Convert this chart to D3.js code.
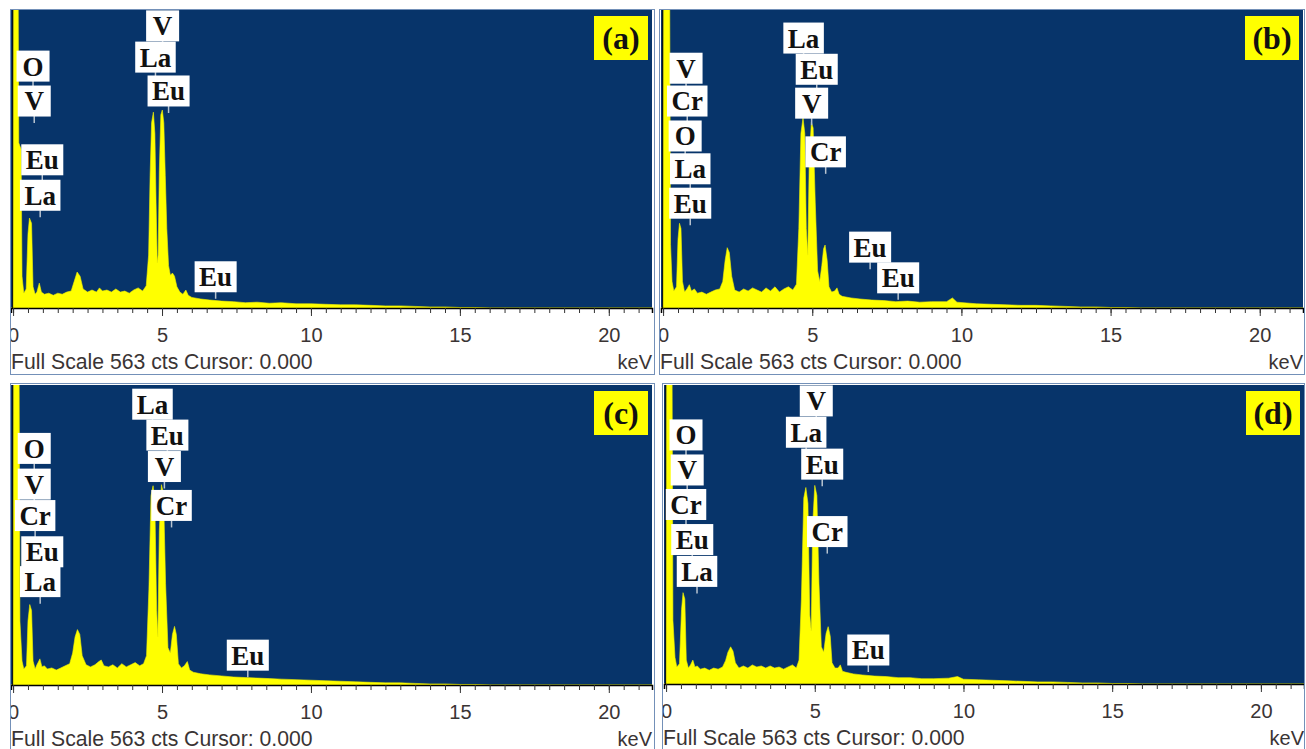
<!DOCTYPE html>
<html>
<head>
<meta charset="utf-8">
<script src="https://cdn.jsdelivr.net/npm/d3@7"></script>
<style>
  body { margin: 0; background: #fff; }
  svg { display: block; }
</style>
</head>
<body>
<svg id="chart"></svg>
<script>
// EDS spectra, four samples. values are [keV, counts], full scale 563 cts
const fullScale = 563;
const energyTicks = [0, 5, 10, 15, 20];
const panelNames = ["(a)", "(b)", "(c)", "(d)"];
const footerText = "Full Scale 563 cts Cursor: 0.000";
const unitText = "keV";

const spectrumA = [
  [-0.07,0],[0,0],[0.02,620],[0.17,620],[0.19,312],[0.27,300],[0.3,60],[0.36,28],[0.44,36],
  [0.5,140],[0.55,170],[0.62,160],[0.67,40],[0.74,26],[0.8,30],[0.88,47],[0.95,30],[1.05,26],
  [1.2,28],[1.35,24],[1.5,28],[1.65,26],[1.8,30],[1.95,32],[2.05,50],[2.15,68],[2.25,60],
  [2.35,36],[2.5,30],[2.65,34],[2.8,30],[2.9,38],[3.0,32],[3.15,34],[3.3,30],[3.45,36],
  [3.6,30],[3.75,32],[3.9,28],[4.05,34],[4.2,38],[4.35,32],[4.47,42],[4.55,100],[4.6,250],
  [4.65,350],[4.71,370],[4.76,330],[4.8,200],[4.84,85],[4.87,100],[4.91,260],[4.96,365],
  [5.01,374],[5.06,350],[5.11,250],[5.16,150],[5.22,80],[5.28,62],[5.35,66],[5.42,60],
  [5.5,40],[5.6,30],[5.7,26],[5.8,34],[5.88,24],[6.0,20],[6.3,17],[6.6,15],[7.0,13],
  [7.4,12],[7.8,10],[8.2,11],[8.6,9],[9.0,10],[9.5,8],[10.0,8],[10.5,7],[11.0,6],[11.5,6],
  [12.0,5],[12.5,4],[13.0,4],[13.5,3],[14.0,2],[14.5,2],[15.0,1],[15.5,1],[16.0,0],[21.5,0]
];

const spectrumB = [
  [-0.07,0],[0,0],[0.02,620],[0.22,620],[0.25,120],[0.3,50],[0.36,32],[0.45,40],[0.5,130],
  [0.55,160],[0.6,150],[0.65,50],[0.72,30],[0.8,36],[0.88,44],[0.95,32],[1.05,36],[1.15,28],
  [1.3,30],[1.45,26],[1.6,30],[1.75,34],[1.9,36],[2.0,50],[2.08,90],[2.15,114],[2.22,105],
  [2.3,60],[2.4,34],[2.55,30],[2.7,36],[2.85,32],[3.0,38],[3.15,34],[3.3,30],[3.45,38],
  [3.6,32],[3.75,40],[3.9,30],[4.05,36],[4.2,40],[4.35,34],[4.47,45],[4.55,150],[4.62,330],
  [4.69,359],[4.75,330],[4.8,150],[4.85,100],[4.9,280],[4.97,351],[5.03,340],[5.1,200],
  [5.18,70],[5.25,50],[5.32,80],[5.38,112],[5.43,119],[5.5,90],[5.56,40],[5.65,30],[5.75,32],
  [5.83,38],[5.9,26],[6.0,22],[6.3,19],[6.6,17],[7.0,15],[7.4,14],[7.8,12],[8.2,13],[8.6,11],
  [9.0,12],[9.5,12],[9.7,19],[9.85,11],[10.5,8],[11.0,7],[11.5,6],[12.0,5],[12.5,5],[13.0,4],
  [13.5,3],[14.0,2],[14.5,2],[15.0,1],[15.5,1],[16.0,0],[21.5,0]
];

const spectrumC = [
  [-0.07,0],[0,0],[0.02,620],[0.2,620],[0.23,120],[0.3,45],[0.36,30],[0.45,36],[0.5,120],
  [0.56,151],[0.62,140],[0.67,45],[0.74,30],[0.8,38],[0.9,49],[0.97,34],[1.05,36],[1.15,30],
  [1.3,32],[1.45,28],[1.6,32],[1.75,36],[1.9,40],[2.0,60],[2.08,90],[2.16,104],[2.24,95],
  [2.32,55],[2.45,38],[2.6,34],[2.75,38],[2.88,44],[2.96,47],[3.05,36],[3.2,34],[3.35,38],
  [3.5,32],[3.65,40],[3.8,34],[3.95,38],[4.1,42],[4.25,36],[4.38,40],[4.48,55],[4.56,180],
  [4.63,355],[4.7,374],[4.76,340],[4.82,140],[4.86,90],[4.91,290],[4.98,376],[5.05,360],
  [5.12,190],[5.2,70],[5.28,60],[5.35,95],[5.42,110],[5.48,95],[5.55,40],[5.65,32],[5.75,36],
  [5.85,44],[5.93,28],[6.05,24],[6.3,21],[6.6,19],[7.0,17],[7.4,15],[7.8,14],[8.2,13],[8.6,12],
  [9.0,11],[9.5,10],[10.0,9],[10.5,8],[11.0,7],[11.5,6],[12.0,5],[12.5,4],[13.0,4],[13.5,3],
  [14.0,2],[14.5,2],[15.0,1],[15.5,1],[16.0,0],[21.5,0]
];

const spectrumD = [
  [-0.07,0],[0,0],[0.02,620],[0.2,620],[0.23,120],[0.3,50],[0.36,32],[0.45,38],[0.52,140],
  [0.57,172],[0.63,160],[0.68,45],[0.75,30],[0.82,36],[0.9,45],[0.97,32],[1.05,34],[1.15,28],
  [1.3,30],[1.45,26],[1.6,30],[1.75,28],[1.9,32],[2.0,44],[2.08,60],[2.17,70],[2.25,62],
  [2.33,40],[2.45,30],[2.6,34],[2.75,30],[2.9,36],[3.05,32],[3.2,34],[3.35,30],[3.5,34],
  [3.65,30],[3.8,32],[3.95,28],[4.1,32],[4.25,36],[4.38,30],[4.47,45],[4.55,160],[4.63,350],
  [4.7,370],[4.77,340],[4.83,130],[4.88,100],[4.93,300],[5.0,374],[5.07,355],[5.14,190],
  [5.22,70],[5.3,60],[5.38,95],[5.45,108],[5.52,90],[5.58,40],[5.68,30],[5.78,30],[5.86,36],
  [5.93,24],[6.05,22],[6.3,19],[6.6,17],[7.0,15],[7.4,14],[7.8,12],[8.2,12],[8.6,10],[9.0,10],
  [9.5,11],[9.8,14],[10.0,9],[10.5,8],[11.0,7],[11.5,6],[12.0,5],[12.5,4],[13.0,4],[13.5,3],
  [14.0,2],[14.5,2],[15.0,1],[15.5,1],[16.0,0],[21.5,0]
];

// element labels: [text, keV, cts]
const labelsA = [
  ["O",0.67,457],["V",0.71,391],["Eu",0.98,280],["La",0.91,213],
  ["V",5.02,533],["La",4.78,474],["Eu",5.22,410],["Eu",6.80,59]
];
const labelsB = [
  ["V",0.77,453],["Cr",0.81,391],["O",0.74,325],["La",0.91,263],["Eu",0.91,198],
  ["La",4.71,510],["Eu",5.15,451],["V",4.98,387],["Cr",5.45,295],
  ["Eu",6.94,115],["Eu",7.88,57]
];
const labelsC = [
  ["O",0.71,444],["V",0.71,377],["Cr",0.74,318],["Eu",0.98,250],["La",0.91,194],
  ["La",4.68,527],["Eu",5.18,469],["V",5.08,410],["Cr",5.32,337],["Eu",7.88,56]
];
const labelsD = [
  ["O",0.67,469],["V",0.71,403],["Cr",0.67,338],["Eu",0.88,272],["La",1.04,212],
  ["V",5.05,533],["La",4.71,474],["Eu",5.25,414],["Cr",5.42,287],["Eu",6.80,64]
];

const spectra = [spectrumA, spectrumB, spectrumC, spectrumD];
const labelSets = [labelsA, labelsB, labelsC, labelsD];

// panel frames (outer box) and plot areas
const frames = [
  { bx: 10, by: 9, bw: 645, bh: 366, left: 11, right: 652, top: 10, base: 308 },
  { bx: 659, by: 9, bw: 646, bh: 366, left: 661, right: 1303, top: 10, base: 308 },
  { bx: 10, by: 383, bw: 645, bh: 368, left: 11, right: 652, top: 385, base: 685 },
  { bx: 662, by: 383, bw: 643, bh: 368, left: 664, right: 1304, top: 385, base: 684 }
];

const W = 1306, H = 749;
const svg = d3.select("#chart").attr("width", W).attr("height", H);
svg.append("rect").attr("width", W).attr("height", H).attr("fill", "#fff");

const sans = "'Liberation Sans', Arial, sans-serif";
const serif = "'Liberation Serif', 'Times New Roman', serif";

frames.forEach((f, i) => {
  const g = svg.append("g");

  const clipId = "panel" + i;
  svg.append("clipPath").attr("id", clipId)
    .append("rect").attr("x", f.bx + 1).attr("y", f.by).attr("width", f.bw - 1).attr("height", f.bh);
  const plotClip = "plot" + i;
  svg.append("clipPath").attr("id", plotClip)
    .append("rect").attr("x", f.left).attr("y", f.top)
    .attr("width", f.right - f.left).attr("height", f.base - f.top);

  const inner = g.append("g").attr("clip-path", `url(#${clipId})`);

  const x = d3.scaleLinear().domain([-0.07, 21.45]).range([f.left, f.right]);
  const y = d3.scaleLinear().domain([0, fullScale]).range([f.base, f.top]);

  // plot background
  inner.append("rect")
    .attr("x", f.left).attr("y", f.top)
    .attr("width", f.right - f.left).attr("height", f.base - f.top)
    .attr("fill", "#07346a");

  const area = d3.area()
    .x(d => x(d[0]))
    .y0(y(0))
    .y1(d => y(d[1]));

  inner.append("path")
    .datum(spectra[i])
    .attr("clip-path", `url(#${plotClip})`)
    .attr("fill", "#ffff00")
    .attr("stroke", "#f2f200")
    .attr("stroke-width", 0.6)
    .attr("d", area);

  // thin dark line at the left of the plot
  inner.append("line")
    .attr("x1", x(0) - 0.5).attr("x2", x(0) - 0.5)
    .attr("y1", f.top).attr("y2", f.base)
    .attr("stroke", "#111").attr("stroke-width", 1);

  // minor ticks every 0.5 keV
  const minorAxis = d3.axisBottom(x)
    .tickValues(d3.range(0, 21.01, 0.5))
    .tickSize(5)
    .tickFormat("");
  inner.append("g")
    .attr("transform", `translate(0,${f.base})`)
    .call(minorAxis)
    .call(a => a.select(".domain").attr("stroke", "#000").attr("stroke-width", 1.5))
    .call(a => a.selectAll(".tick line").attr("stroke", "#333"));

  const majorAxis = d3.axisBottom(x)
    .tickValues(energyTicks)
    .tickSize(8)
    .tickPadding(12);
  inner.append("g")
    .attr("transform", `translate(0,${f.base})`)
    .call(majorAxis)
    .call(a => a.select(".domain").remove())
    .call(a => a.selectAll(".tick line").attr("stroke", "#333"))
    .call(a => a.selectAll(".tick text")
      .attr("fill", "#3a3434")
      .style("font-family", sans)
      .style("font-size", "20px"));

  // footer
  inner.append("text")
    .attr("x", f.bx + 1).attr("y", f.base + 61)
    .attr("fill", "#3a3434")
    .style("font-family", sans).style("font-size", "21.2px")
    .text(footerText);
  inner.append("text")
    .attr("x", f.right).attr("y", f.base + 61)
    .attr("text-anchor", "end")
    .attr("fill", "#3a3434")
    .style("font-family", sans).style("font-size", "20px")
    .text(unitText);

  // element labels
  labelSets[i].forEach(([txt, kev, cts]) => {
    const cx = x(kev), cy = y(cts);
    const lg = inner.append("g");
    const box = lg.append("rect").attr("fill", "#fff");
    const t = lg.append("text")
      .attr("x", cx).attr("y", cy)
      .attr("dy", "0.35em")
      .attr("text-anchor", "middle")
      .attr("fill", "#111")
      .style("font-family", serif)
      .style("font-size", "27px")
      .style("font-weight", "bold")
      .text(txt);
    const w = Math.max(33, t.node().getComputedTextLength() + 9);
    box.attr("x", cx - w / 2).attr("y", cy - 15.5).attr("width", w).attr("height", 31);
    lg.insert("line", "rect")
      .attr("x1", cx).attr("x2", cx)
      .attr("y1", cy + 15).attr("y2", cy + 22)
      .attr("stroke", "#b8c4d0").attr("stroke-width", 1.5);
  });

  // panel name, yellow box top-right
  const nw = 54, nh = 44;
  const nx = f.right - nw - 4, ny = f.top + 6;
  inner.append("rect")
    .attr("x", nx).attr("y", ny).attr("width", nw).attr("height", nh)
    .attr("fill", "#ffff00");
  inner.append("text")
    .attr("x", nx + nw / 2).attr("y", ny + nh / 2)
    .attr("dy", "0.35em")
    .attr("text-anchor", "middle")
    .attr("fill", "#111")
    .style("font-family", serif)
    .style("font-size", "32px")
    .style("font-weight", "bold")
    .text(panelNames[i]);

  // frame border
  g.append("rect")
    .attr("x", f.bx + 0.5).attr("y", f.by + 0.5)
    .attr("width", f.bw - 1).attr("height", f.bh - 1)
    .attr("fill", "none")
    .attr("stroke", "#7390b8")
    .attr("stroke-width", 1);
});
</script>
</body>
</html>
